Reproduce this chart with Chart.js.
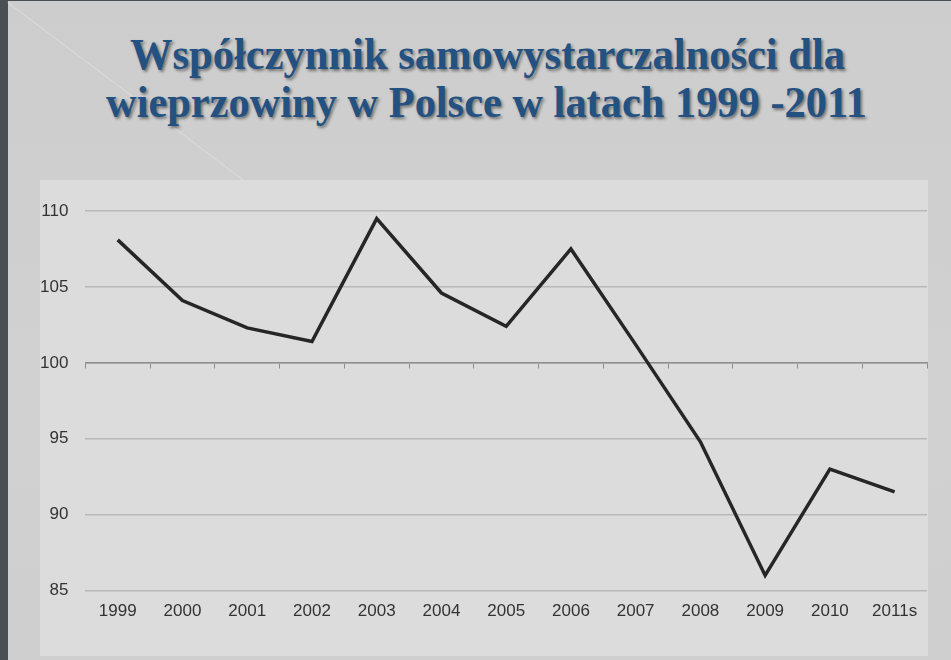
<!DOCTYPE html>
<html lang="pl">
<head>
  <meta charset="UTF-8" />
  <title>Współczynnik samowystarczalności</title>
  <script src="https://cdn.jsdelivr.net/npm/chart.js"></script>
  <style>
    html, body { margin: 0; padding: 0; }
    body {
      width: 951px; height: 660px; overflow: hidden; position: relative;
      background: linear-gradient(180deg, #cdcdcd 0%, #d1d1d1 60%, #cfcfcf 100%);
      border-top: 1px solid #4a4f53;
      box-sizing: border-box;
    }
    .strip { position: absolute; left: 0; top: 0; width: 8px; height: 660px; background: #4a4f53; }
    .streak {
      position: absolute; left: 8px; top: 1px; width: 420px; height: 1px;
      background: rgba(235,235,235,0.45);
      transform-origin: 0 0; transform: rotate(37deg);
    }
    .title {
      position: absolute; left: 8px; right: 0; top: 0;
      font-family: "Liberation Serif", "Times New Roman", serif;
      font-weight: bold; font-size: 45px; color: #235182;
      text-shadow: 2px 2px 3px rgba(0,0,0,0.45);
      text-align: center;
    }
    .title span { position: absolute; white-space: nowrap; line-height: 1; transform-origin: 0 0; }
    .box {
      position: absolute; left: 40px; top: 179px; width: 888px; height: 476px;
      background: #dcdcdc;
    }
    #chart { position: absolute; left: 23px; top: 179px; }
  </style>
</head>
<body>
  <div class="strip"></div>
  <div class="streak"></div>
  <div class="title">
    <span data-x="130" data-w="715" data-y="31">Współczynnik samowystarczalności dla</span>
    <span data-x="106" data-w="761" data-y="79">wieprzowiny w Polsce w latach 1999 -2011</span>
  </div>
  <div class="box"></div>
  <canvas id="chart" width="905" height="476"></canvas>

  <script>
    const years = ['1999', '2000', '2001', '2002', '2003', '2004', '2005', '2006', '2007', '2008', '2009', '2010', '2011s'];
    const selfSufficiency = [108.1, 104.1, 102.3, 101.4, 109.5, 104.6, 102.4, 107.5, 101.2, 94.8, 86.0, 93.0, 91.5];
    const yTicks = [85, 90, 95, 100, 105, 110];

    // squeeze title lines to the widths in the slide
    document.querySelectorAll('.title span').forEach(s => {
      const w = s.getBoundingClientRect().width;
      s.style.left = (s.dataset.x - 8) + 'px';
      s.style.top = s.dataset.y + 'px';
      s.style.transform = 'scaleX(' + (s.dataset.w / w) + ')';
    });

    const font = { family: '"Liberation Sans", Arial, sans-serif', size: 17 };

    new Chart(document.getElementById('chart'), {
      type: 'line',
      data: {
        labels: years,
        datasets: [{
          data: selfSufficiency,
          borderColor: '#262626',
          borderWidth: 3.5,
          borderJoinStyle: 'miter',
          pointRadius: 0,
          tension: 0,
          fill: false
        }]
      },
      options: {
        responsive: false,
        animation: false,
        layout: { padding: { top: 31, right: 1, bottom: 31, left: 0 } },
        plugins: { legend: { display: false }, tooltip: { enabled: false } },
        scales: {
          x: {
            type: 'category',
            position: { y: 100 },
            offset: true,
            grid: { offset: true, drawOnChartArea: false, drawTicks: true, tickLength: 5, color: '#8c8c8c', lineWidth: 1 },
            border: { display: true, color: '#8c8c8c', width: 1.5 },
            ticks: { display: false }
          },
          x2: {
            type: 'category',
            labels: years,
            position: 'bottom',
            offset: true,
            grid: { display: false },
            border: { display: false },
            ticks: { color: '#333333', font: font, padding: 3, maxRotation: 0, autoSkip: false }
          },
          y: {
            min: 85,
            max: 110,
            afterBuildTicks: axis => { axis.ticks = yTicks.map(v => ({ value: v })); },
            grid: { color: '#b8b8b8', lineWidth: 1.5, drawTicks: false },
            border: { display: false },
            ticks: { color: '#333333', font: font, padding: 17 }
          }
        }
      }
    });
  </script>
</body>
</html>
